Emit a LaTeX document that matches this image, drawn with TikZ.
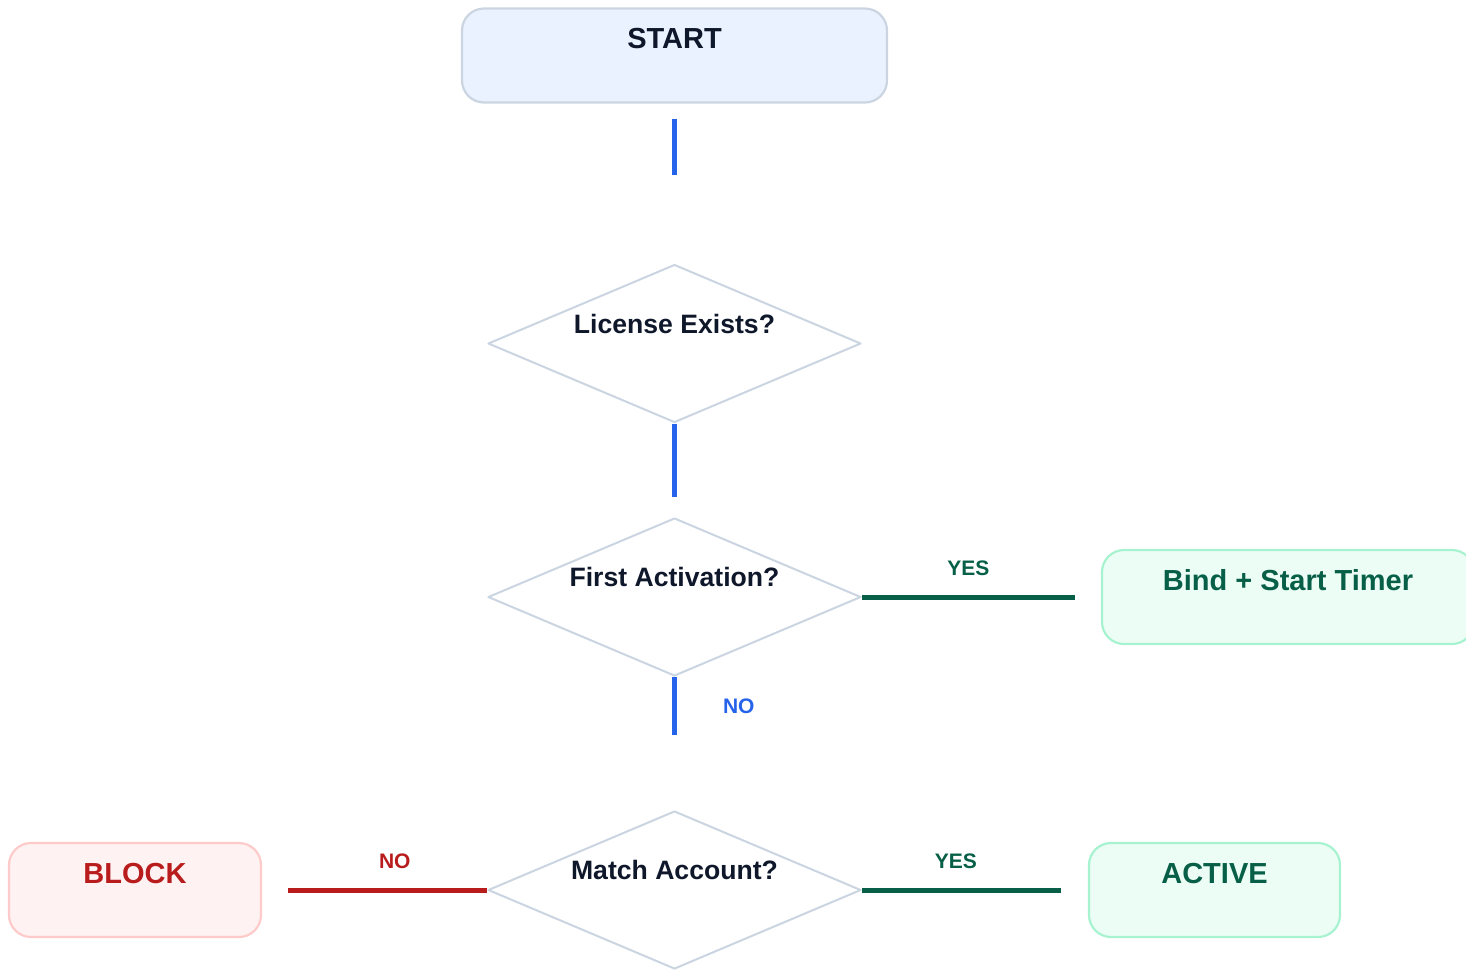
\documentclass[tikz,border=0pt]{standalone}
\usepackage{fontspec}
\setmainfont{Liberation Sans}
\usetikzlibrary{shapes.geometric}

\begin{document}
\begin{tikzpicture}[line cap=butt,line join=round,x=0.5pt,y=-0.5pt,
  box/.style={rectangle,rounded corners=11pt,line width=1.1pt,inner sep=0pt,minimum height=47pt,text height=20pt,text depth=27pt,font=\fontsize{14.5}{17}\selectfont\bfseries},
  ask/.style={diamond,aspect=2.36,draw=cbdver,line width=1pt,fill=white,inner sep=0pt,minimum width=186.5pt,minimum height=79pt,text height=10pt,text depth=20.5pt,text=qfrxsa,font=\fontsize{13.3}{16}\selectfont\bfseries},
  link/.style={line width=2.5pt},
  tag/.style={inner sep=0pt,font=\fontsize{10.5}{12}\selectfont\bfseries}]
\definecolor{cbdver}{rgb}{0.796,0.835,0.882}
\definecolor{qfrxsa}{rgb}{0.059,0.090,0.165}
\definecolor{ebfsff}{rgb}{0.922,0.949,1.}
\definecolor{svwteb}{rgb}{0.145,0.388,0.922}
\definecolor{qwvfuw}{rgb}{0.024,0.373,0.275}
\definecolor{ecfdfv}{rgb}{0.925,0.992,0.961}
\definecolor{axftdq}{rgb}{0.655,0.953,0.816}
\definecolor{bzrcrc}{rgb}{0.725,0.110,0.110}
\definecolor{fefsfs}{rgb}{0.996,0.949,0.949}
\definecolor{fecaca}{rgb}{0.996,0.792,0.792}

\useasboundingbox (0,0) rectangle (1466,970);
\clip (0,0) rectangle (1466,970);
% boxes and questions
\node[box,draw=cbdver,fill=ebfsff,text=qfrxsa,minimum width=212.5pt] (start) at (674.5,55.5) {START};
\node[ask] (lic) at (674.5,343.5) {License Exists?};
\node[ask] (first) at (674.5,597) {First Activation?};
\node[ask] (match) at (674.5,890) {Match Account?};
\node[box,draw=axftdq,fill=ecfdfv,text=qwvfuw,minimum width=186pt] (bind) at (1288,597) {Bind + Start Timer};
\node[box,draw=fecaca,fill=fefsfs,text=bzrcrc,minimum width=126pt] (block) at (135,890) {BLOCK};
\node[box,draw=axftdq,fill=ecfdfv,text=qwvfuw,minimum width=125.5pt] (active) at (1214.5,890) {ACTIVE};
% links
\draw[link,svwteb,shorten <=7.5pt,shorten >=44.5pt] (start) -- (lic);
\draw[link,svwteb,shorten >=10pt] (lic) -- (first);
\draw[link,svwteb,shorten >=37.5pt] (first) -- (match) node[tag,pos=.22,right=23pt] {NO};
\draw[link,qwvfuw,shorten >=13pt] (first) -- (bind) node[tag,pos=.445,above=9.5pt] {YES};
\draw[link,bzrcrc,shorten >=13pt] (match) -- (block) node[tag,pos=.41,above=9.5pt] {NO};
\draw[link,qwvfuw,shorten >=13.5pt] (match) -- (active) node[tag,pos=.415,above=9.5pt] {YES};
\end{tikzpicture}
\end{document}
